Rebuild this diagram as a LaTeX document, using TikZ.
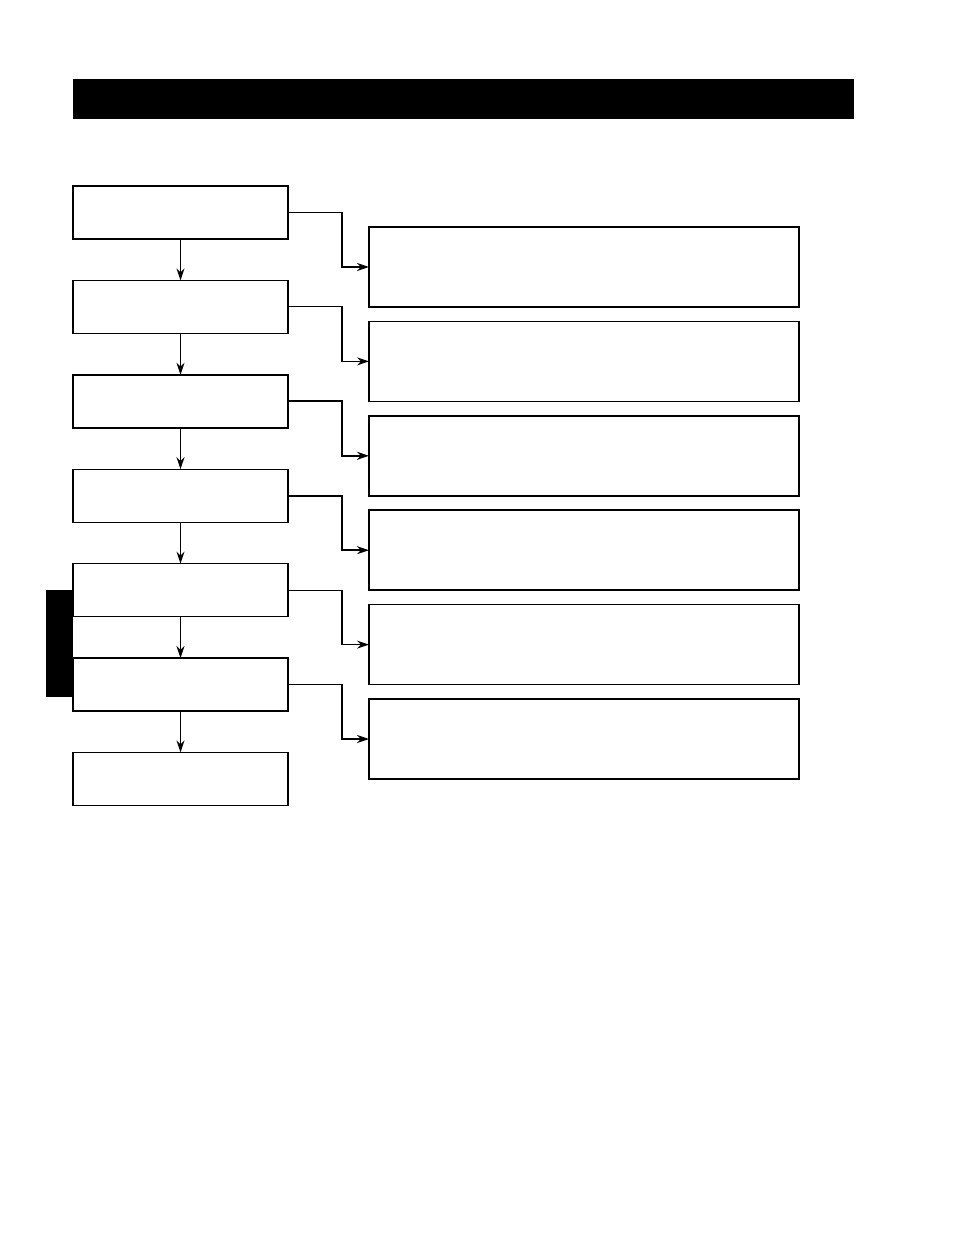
\documentclass[tikz,border=0pt]{standalone}
\usepackage{tikz}
\usetikzlibrary{arrows.meta,positioning}

\begin{document}
\begin{tikzpicture}[node distance=20.7pt]
\tikzset{
  paso/.style={draw=black,line width=0.7pt,minimum width=107.5pt,
    minimum height=26.5pt,outer sep=0pt,inner sep=0pt},
  detalle/.style={draw=black,line width=0.8pt,minimum width=215pt,
    minimum height=40pt,outer sep=0pt,inner sep=0pt},
  fl/.style={-{Stealth[length=6pt,width=4pt]},black,line width=0.6pt}
}
\useasboundingbox (0,0) rectangle (477pt,-617.5pt);
% barra superior y pestana lateral
\fill[black] (36.5pt,-39.5pt) rectangle (427pt,-59.5pt);
\fill[black] (23pt,-295pt) rectangle (36.5pt,-348.5pt);
% columna de pasos
\node[paso] (p1) at (90.25pt,-106.25pt) {};
\node[paso,below=of p1] (p2) {};
\node[paso,below=of p2] (p3) {};
\node[paso,below=of p3] (p4) {};
\node[paso,below=of p4] (p5) {};
\node[paso,below=of p5] (p6) {};
\node[paso,below=of p6] (p7) {};
\draw[fl] (p1) -- (p2); \draw[fl] (p2) -- (p3);
\draw[fl] (p3) -- (p4); \draw[fl] (p4) -- (p5);
\draw[fl] (p5) -- (p6); \draw[fl] (p6) -- (p7);
% cajas de detalle
\node[detalle,right=40.5pt of p1,yshift=-27.25pt] (d1) {};
\node[detalle,right=40.5pt of p2,yshift=-27.25pt] (d2) {};
\node[detalle,right=40.5pt of p3,yshift=-27.25pt] (d3) {};
\node[detalle,right=40.5pt of p4,yshift=-27.25pt] (d4) {};
\node[detalle,right=40.5pt of p5,yshift=-27.25pt] (d5) {};
\node[detalle,right=40.5pt of p6,yshift=-27.25pt] (d6) {};
\draw[fl,line width=0.9pt] (p1.east) -- ++(27pt,0) |- (d1.west);
\draw[fl] (p2.east) -- ++(27pt,0) |- (d2.west);
\draw[fl,line width=0.9pt] (p3.east) -- ++(27pt,0) |- (d3.west);
\draw[fl,line width=0.9pt] (p4.east) -- ++(27pt,0) |- (d4.west);
\draw[fl] (p5.east) -- ++(27pt,0) |- (d5.west);
\draw[fl] (p6.east) -- ++(27pt,0) |- (d6.west);
\end{tikzpicture}
\end{document}
